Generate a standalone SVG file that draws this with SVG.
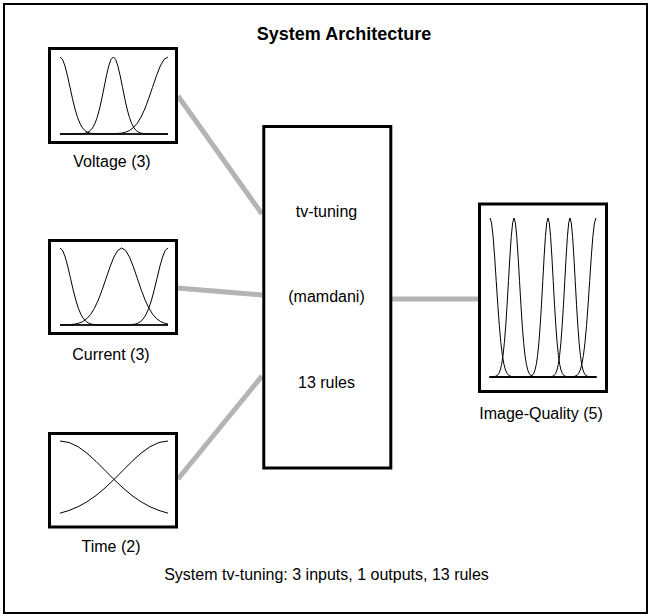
<svg xmlns="http://www.w3.org/2000/svg" width="651" height="616" viewBox="0 0 651 616">
<style>
  text { font-family: "Liberation Sans", Arial, Helvetica, sans-serif; font-size: 16px; fill: #000; text-anchor: middle; }
  .title { font-size: 18px; font-weight: bold; }
  .box { fill: #fff; stroke: #000; stroke-width: 3; }
  .mf { fill: none; stroke: #000; stroke-width: 1; stroke-linejoin: round; }
  .axis { stroke: #000; stroke-width: 1.5; }
  .conn { stroke: #b4b4b4; stroke-width: 5; fill: none; }
</style>
<rect x="0" y="0" width="651" height="616" fill="#fff"/>
<rect x="4" y="4" width="643" height="609" fill="none" stroke="#000" stroke-width="2"/>
<text class="title" x="344" y="40">System Architecture</text>

<g id="connectors">
  <line class="conn" x1="178" y1="96" x2="262" y2="214"/>
  <line class="conn" x1="177" y1="288" x2="262" y2="295"/>
  <line class="conn" x1="178" y1="479" x2="262" y2="376"/>
  <line class="conn" x1="392" y1="299" x2="478" y2="299"/>
</g>

<g id="voltage">
  <rect class="box" x="49.5" y="48.5" width="127" height="94"/>
  <line class="axis" x1="60" y1="134" x2="168" y2="134"/>
  <path class="mf" d="M60,57 L62.5,59.37 L65,66.05 L67.5,75.88 L70,87.3 L72.5,98.75 L75,109 L77.5,117.34 L80,123.58 L82.5,127.87 L85,130.62 L87.5,132.24 L90,133.15 L95,133.83 L100,134 L168,134"/>
  <path class="mf" d="M60,134 L76.5,134 L81.1,133.83 L85.7,133.15 L88,132.24 L90.3,130.62 L92.6,127.87 L94.9,123.58 L97.2,117.34 L99.5,109 L101.8,98.75 L104.1,87.3 L106.4,75.88 L108.7,66.05 L111,59.37 L113.3,57 L115.6,59.37 L117.9,66.05 L120.2,75.88 L122.5,87.3 L124.8,98.75 L127.1,109 L129.4,117.34 L131.7,123.58 L134,127.87 L136.3,130.62 L138.6,132.24 L140.9,133.15 L145.5,133.83 L150.1,134 L168,134"/>
  <path class="mf" d="M60,134 L106,134 L113.75,133.83 L121.5,133.15 L125.4,132.24 L129.25,130.62 L133.1,127.87 L137,123.58 L140.9,117.34 L144.75,109 L148.6,98.75 L152.5,87.3 L156.4,75.88 L160.25,66.05 L164.1,59.37 L168,57"/>
  <text x="112" y="167">Voltage (3)</text>
</g>

<g id="current">
  <rect class="box" x="49.5" y="240.5" width="127" height="93"/>
  <line class="axis" x1="60" y1="325" x2="168" y2="325"/>
  <path class="mf" d="M60,248 L62.63,250.37 L65.25,257.05 L67.88,266.88 L70.5,278.3 L73.13,289.75 L75.75,300 L78.38,308.34 L81,314.58 L83.63,318.87 L86.25,321.62 L88.88,323.24 L91.5,324.15 L96.75,324.83 L102,325 L168,325"/>
  <path class="mf" d="M60,325 L67.1,324.83 L74.9,324.15 L78.8,323.24 L82.7,321.62 L86.6,318.87 L90.5,314.58 L94.4,308.34 L98.3,300 L102.2,289.75 L106.1,278.3 L110,266.88 L113.9,257.05 L117.8,250.37 L121.7,248 L125.6,250.37 L129.5,257.05 L133.4,266.88 L137.3,278.3 L141.2,289.75 L145.1,300 L149,308.34 L152.9,314.58 L156.8,318.87 L160.7,321.62 L164.6,323.24 L168,324.06"/>
  <path class="mf" d="M60,325 L124,325 L129.5,324.83 L135,324.15 L137.75,323.24 L140.5,321.62 L143.25,318.87 L146,314.58 L148.75,308.34 L151.5,300 L154.25,289.75 L157,278.3 L159.75,266.88 L162.5,257.05 L165.25,250.37 L168,248"/>
  <text x="111" y="359.5">Current (3)</text>
</g>

<g id="time">
  <rect class="box" x="49.5" y="433.5" width="127" height="93.5"/>
  <path class="mf" d="M60,441 L69,442.47 L78,446.7 L87,453.23 L96,461.39 L105,470.38 L114,479.46 L123,487.98 L132,495.5 L141,501.77 L150,506.74 L159,510.48 L168,513.17"/>
  <path class="mf" d="M168,441 L159,442.47 L150,446.7 L141,453.23 L132,461.39 L123,470.38 L114,479.46 L105,487.98 L96,495.5 L87,501.77 L78,506.74 L69,510.48 L60,513.17"/>
  <text x="111" y="552">Time (2)</text>
</g>

<g id="tv-tuning">
  <rect class="box" x="263.8" y="126.5" width="127" height="341.5"/>
  <text x="326.5" y="217">tv-tuning</text>
  <text x="326.5" y="302">(mamdani)</text>
  <text x="326.5" y="388">13 rules</text>
</g>

<g id="image-quality">
  <rect class="box" x="479.5" y="204" width="127" height="187.5"/>
  <line class="axis" x1="489" y1="377" x2="597" y2="377"/>
  <path class="mf" d="M490,218 L491.55,222.9 L493.1,236.68 L494.65,256.99 L496.2,280.57 L497.75,304.21 L499.3,325.37 L500.85,342.61 L502.4,355.49 L503.95,364.34 L505.5,370.02 L507.05,373.37 L508.6,375.24 L511.7,376.65 L514.8,377 L596,377"/>
  <path class="mf" d="M490,377 L492,377 L494.75,376.65 L497.5,375.24 L498.88,373.37 L500.25,370.02 L501.63,364.34 L503,355.49 L504.38,342.61 L505.75,325.37 L507.13,304.21 L508.5,280.57 L509.88,256.99 L511.25,236.68 L512.63,222.9 L514,218 L515.38,222.9 L516.75,236.68 L518.13,256.99 L519.5,280.57 L520.88,304.21 L522.25,325.37 L523.63,342.61 L525,355.49 L526.38,364.34 L527.75,370.02 L529.13,373.37 L530.5,375.24 L533.25,376.65 L536,377 L596,377"/>
  <path class="mf" d="M490,377 L527.2,377 L529.8,376.65 L532.4,375.24 L533.7,373.37 L535,370.02 L536.3,364.34 L537.6,355.49 L538.9,342.61 L540.2,325.37 L541.5,304.21 L542.8,280.57 L544.1,256.99 L545.4,236.68 L546.7,222.9 L548,218 L549.3,222.9 L550.6,236.68 L551.9,256.99 L553.2,280.57 L554.5,304.21 L555.8,325.37 L557.1,342.61 L558.4,355.49 L559.7,364.34 L561,370.02 L562.3,373.37 L563.6,375.24 L566.2,376.65 L568.8,377 L596,377"/>
  <path class="mf" d="M490,377 L549.2,377 L551.8,376.65 L554.4,375.24 L555.7,373.37 L557,370.02 L558.3,364.34 L559.6,355.49 L560.9,342.61 L562.2,325.37 L563.5,304.21 L564.8,280.57 L566.1,256.99 L567.4,236.68 L568.7,222.9 L570,218 L571.3,222.9 L572.6,236.68 L573.9,256.99 L575.2,280.57 L576.5,304.21 L577.8,325.37 L579.1,342.61 L580.4,355.49 L581.7,364.34 L583,370.02 L584.3,373.37 L585.6,375.24 L588.2,376.65 L590.8,377 L596,377"/>
  <path class="mf" d="M490,377 L570.8,377 L573.95,376.65 L577.1,375.24 L578.68,373.37 L580.25,370.02 L581.83,364.34 L583.4,355.49 L584.98,342.61 L586.55,325.37 L588.13,304.21 L589.7,280.57 L591.28,256.99 L592.85,236.68 L594.43,222.9 L596,218"/>
  <text x="541" y="419">Image-Quality (5)</text>
</g>

<text x="326.5" y="580">System tv-tuning: 3 inputs, 1 outputs, 13 rules</text>
</svg>
